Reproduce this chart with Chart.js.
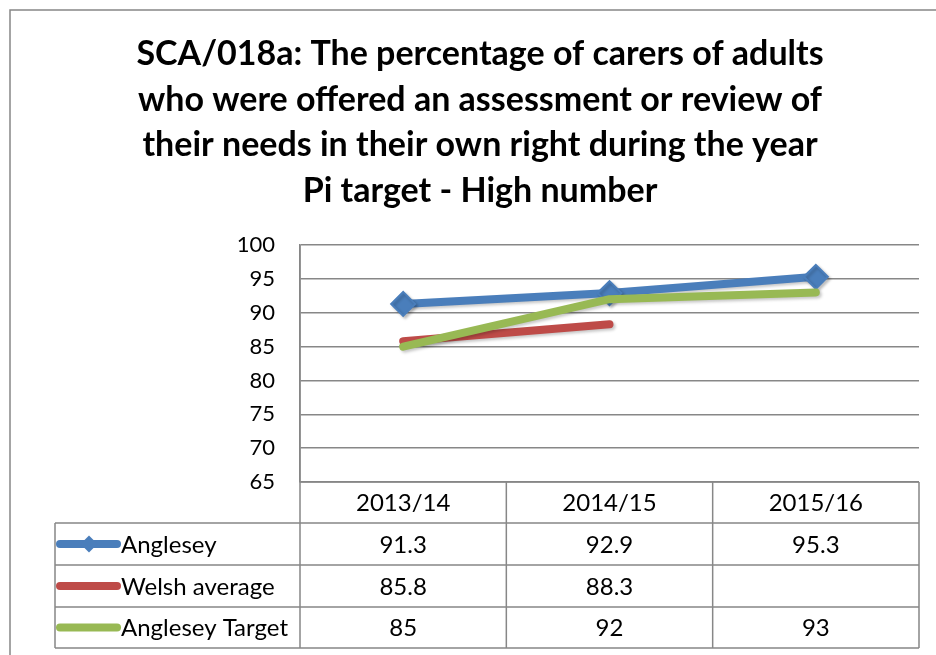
<!DOCTYPE html>
<html>
<head>
<meta charset="utf-8">
<script src="https://cdn.jsdelivr.net/npm/chart.js@4/dist/chart.umd.min.js"></script>
<style>
  html, body { margin: 0; padding: 0; background: #fff; }
  canvas { display: block; }
</style>
</head>
<body>
<canvas id="chart" width="936" height="655"></canvas>
<script>
// chart data
const titleLines = [
    'SCA/018a: The percentage of carers of adults',
    'who were offered an assessment or review of',
    'their needs in their own right during the year',
    'Pi target - High number'
];
const years = ['2013/14', '2014/15', '2015/16'];
const anglesey = [91.3, 92.9, 95.3];
const welshAverage = [85.8, 88.3, null];
const angleseyTarget = [85, 92, 93];
const seriesNames = ['Anglesey', 'Welsh average', 'Anglesey Target'];
const yMin = 65;
const yMax = 100;
const yStep = 5;

const FONT = "Lato, 'Open Sans', sans-serif";
const GRID = '#878787';
const BLUE = '#4a7ebb';
const RED = '#be4b48';
const GREEN = '#98b954';

// title + outer frame
const framePlugin = {
    id: 'frame',
    beforeDraw(chart) {
        const ctx = chart.ctx;
        ctx.save();
        ctx.fillStyle = '#fff';
        ctx.fillRect(0, 0, chart.width, chart.height);
        ctx.strokeStyle = GRID;
        ctx.lineWidth = 1.5;
        ctx.beginPath();
        ctx.moveTo(10, chart.height);
        ctx.lineTo(10, 10);
        ctx.lineTo(chart.width, 10);
        ctx.stroke();

        ctx.fillStyle = '#000';
        ctx.font = 'bold 34px ' + FONT;
        ctx.textAlign = 'center';
        ctx.textBaseline = 'alphabetic';
        titleLines.forEach((line, i) => {
            ctx.fillText(line, 480, 65 + i * 45.5);
        });
        ctx.restore();
    }
};

// soft shadow under the lines, like the excel original
const shadowPlugin = {
    id: 'shadow',
    beforeDatasetDraw(chart) {
        const ctx = chart.ctx;
        ctx.save();
        ctx.shadowColor = 'rgba(0,0,0,0.22)';
        ctx.shadowBlur = 3;
        ctx.shadowOffsetX = 2;
        ctx.shadowOffsetY = 2;
    },
    afterDatasetDraw(chart) {
        chart.ctx.restore();
    }
};

// data table under the plot
const tablePlugin = {
    id: 'dataTable',
    afterDraw(chart) {
        const ctx = chart.ctx;
        const area = chart.chartArea;
        const xScale = chart.scales.x;
        const colW = (area.right - area.left) / years.length;
        const tableLeft = 55;
        const rows = [area.bottom, area.bottom + 41, area.bottom + 83, area.bottom + 125, area.bottom + 166];

        ctx.save();
        ctx.strokeStyle = GRID;
        ctx.lineWidth = 1.5;
        ctx.beginPath();
        ctx.moveTo(area.left, rows[0]);
        ctx.lineTo(area.right, rows[0]);
        for (let r = 1; r < rows.length; r++) {
            ctx.moveTo(tableLeft, rows[r]);
            ctx.lineTo(area.right, rows[r]);
        }
        ctx.moveTo(tableLeft, rows[1]);
        ctx.lineTo(tableLeft, rows[4]);
        for (let c = 0; c <= years.length; c++) {
            const x = area.left + c * colW;
            ctx.moveTo(x, c === 0 ? area.top : rows[0]);
            ctx.lineTo(x, rows[4]);
        }
        ctx.stroke();

        ctx.fillStyle = '#000';
        ctx.font = '24px ' + FONT;
        ctx.textBaseline = 'middle';
        ctx.textAlign = 'center';
        years.forEach((label, i) => {
            ctx.fillText(label, xScale.getPixelForValue(i), (rows[0] + rows[1]) / 2 + 1);
        });

        chart.data.datasets.forEach((ds, d) => {
            const yMid = (rows[d + 1] + rows[d + 2]) / 2;
            // legend key
            ctx.strokeStyle = ds.borderColor;
            ctx.lineWidth = 8;
            ctx.lineCap = 'round';
            ctx.beginPath();
            ctx.moveTo(60, yMid);
            ctx.lineTo(117, yMid);
            ctx.stroke();
            if (ds.pointRadius > 0) {
                ctx.fillStyle = ds.borderColor;
                ctx.beginPath();
                ctx.moveTo(89 - 8.5, yMid);
                ctx.lineTo(89, yMid - 8.5);
                ctx.lineTo(89 + 8.5, yMid);
                ctx.lineTo(89, yMid + 8.5);
                ctx.closePath();
                ctx.fill();
            }
            ctx.fillStyle = '#000';
            ctx.textAlign = 'left';
            ctx.fillText(seriesNames[d], 121, yMid + 1);
            ctx.textAlign = 'center';
            ds.data.forEach((v, i) => {
                if (v === null) return;
                ctx.fillText(String(v), xScale.getPixelForValue(i), yMid + 1);
            });
        });
        ctx.restore();
    }
};

const ctx = document.getElementById('chart').getContext('2d');
const chart = new Chart(ctx, {
    type: 'line',
    data: {
        labels: years,
        datasets: [{
            label: seriesNames[0],
            data: anglesey,
            borderColor: BLUE,
            backgroundColor: BLUE,
            borderWidth: 8,
            pointStyle: 'rectRot',
            pointRadius: 12,
            pointBorderWidth: 2,
            order: 3
        }, {
            label: seriesNames[1],
            data: welshAverage,
            borderColor: RED,
            backgroundColor: RED,
            borderWidth: 8,
            pointRadius: 0,
            order: 2
        }, {
            label: seriesNames[2],
            data: angleseyTarget,
            borderColor: GREEN,
            backgroundColor: GREEN,
            borderWidth: 8,
            pointRadius: 0,
            order: 1
        }]
    },
    options: {
        responsive: false,
        animation: false,
        elements: {
            line: { borderCapStyle: 'round', borderJoinStyle: 'round', tension: 0 }
        },
        layout: { padding: { left: 0, right: 17, top: 245, bottom: 173 } },
        plugins: {
            legend: { display: false },
            title: { display: false },
            tooltip: { enabled: false }
        },
        scales: {
            x: { display: false, offset: true },
            y: {
                min: yMin,
                max: yMax,
                ticks: {
                    stepSize: yStep,
                    padding: 25,
                    color: '#000',
                    font: { family: FONT, size: 22 }
                },
                grid: { color: GRID, lineWidth: 1.5, drawTicks: false },
                border: { display: true, color: GRID, width: 1.5 },
                afterFit(scale) { scale.width = 300; }
            }
        }
    },
    plugins: [framePlugin, shadowPlugin, tablePlugin]
});
</script>
</body>
</html>
